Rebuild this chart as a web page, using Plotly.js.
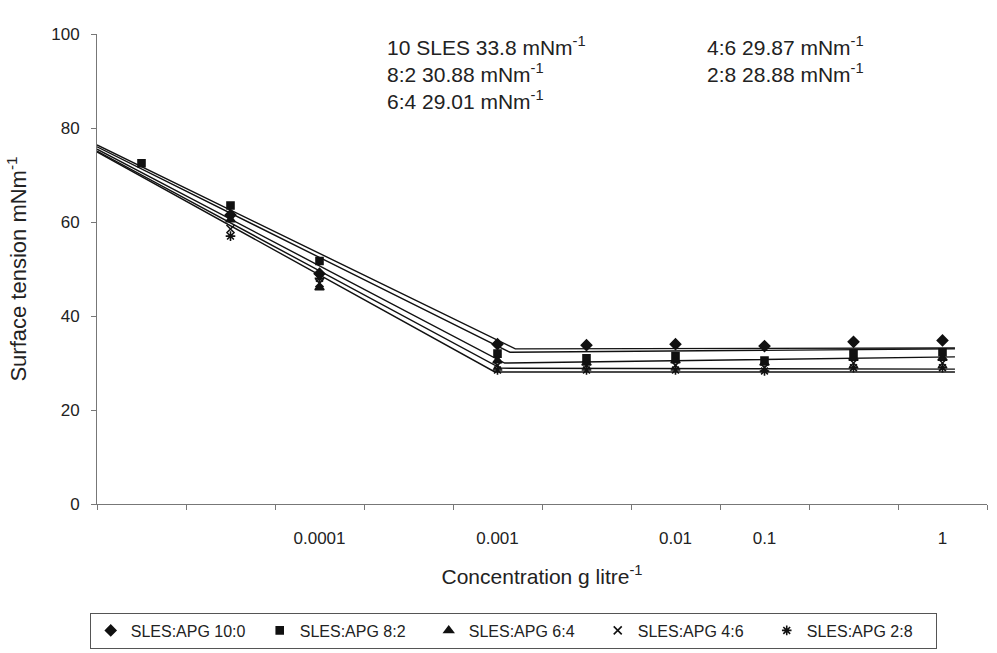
<!DOCTYPE html>
<html>
<head>
<meta charset="utf-8">
<script src="https://cdn.plot.ly/plotly-3.0.1.min.js"></script>
<style>html,body{margin:0;padding:0;background:#fff;}#chart{width:997px;height:653px;}</style>
</head>
<body>
<div id="chart"></div>
<script>
// Category slots along the x axis (10 slots), with their tick labels
const slotLabels = ['', '', '0.0001', '', '0.001', '', '0.01', '0.1', '', '1'];
// Category slot of each measured concentration
const measuredSlots = [1, 2, 3, 5, 6, 7, 8, 9, 10];

const seriesNames = ['SLES:APG 10:0', 'SLES:APG 8:2', 'SLES:APG 6:4', 'SLES:APG 4:6', 'SLES:APG 2:8'];

// Surface tension (mN m-1) per measured concentration
const sles100 = [null, 61.5, 49.0, 34.0, 33.8, 34.0, 33.6, 34.5, 34.8];
const sles82  = [72.5, 63.5, 51.7, 32.0, 31.0, 31.5, 30.5, 32.0, 32.3];
const sles64  = [null, 60.5, 46.0, 30.5, 30.0, 30.5, 30.0, 31.0, 31.0];
const sles46  = [null, 58.5, 47.0, 29.5, 29.5, 29.5, 29.0, 30.0, 30.0];
const sles28  = [null, 57.0, 48.0, 28.5, 28.5, 28.5, 28.3, 29.0, 29.0];
const seriesValues = [sles100, sles82, sles64, sles46, sles28];

// Fitted two-segment lines: slot/value at start, at the break (CMC) and at the end
const fitStartSlot = 0.5;
const fitEndSlot = 10.14;
const fitStartValue = [76.4, 76.0, 75.5, 75.1, 74.9];
const fitBreakSlot  = [5.20, 5.14, 5.08, 5.03, 4.97];
const fitBreakValue = [33.0, 32.3, 30.0, 28.9, 28.1];
const fitEndValue   = [33.2, 33.0, 31.3, 28.7, 28.1];

// CMC surface tension notes
const notesLeft  = ['10 SLES 33.8 mNm<sup>-1</sup>', '8:2 30.88 mNm<sup>-1</sup>', '6:4 29.01 mNm<sup>-1</sup>'];
const notesRight = ['4:6 29.87 mNm<sup>-1</sup>', '2:8 28.88 mNm<sup>-1</sup>'];

const symbols = ['diamond', 'square', 'triangle-up', 'x-thin-open', 'asterisk-open'];
const sizes = [8, 7, 8, 8, 8];
const FONT = '"Liberation Sans", Arial, Helvetica, sans-serif';
const TXT = '#222';

const traces = [];
for (let i = 0; i < 5; i++) {
  traces.push({
    type: 'scatter', mode: 'lines', showlegend: false, hoverinfo: 'skip',
    x: [fitStartSlot, fitBreakSlot[i], fitEndSlot],
    y: [fitStartValue[i], fitBreakValue[i], fitEndValue[i]],
    line: {color: '#111', width: 1.4},
    xaxis: 'x', yaxis: 'y'
  });
}
for (let i = 0; i < 5; i++) {
  traces.push({
    type: 'scatter', mode: 'markers', name: seriesNames[i],
    x: measuredSlots, y: seriesValues[i],
    marker: {symbol: symbols[i], size: sizes[i], color: '#111', line: {color: '#111', width: 1.6}},
    xaxis: 'x', yaxis: 'y'
  });
}

const boundaries = [];
for (let k = 0; k <= slotLabels.length; k++) boundaries.push(k + 0.5);
const labelVals = [], labelText = [];
slotLabels.forEach((t, k) => { if (t) { labelVals.push(k + 1); labelText.push(t); } });

const annotations = [];
const lineY = [0.974, 0.917, 0.860];
notesLeft.forEach((t, k) => annotations.push({
  xref: 'paper', yref: 'paper', x: 0.324, y: lineY[k], xanchor: 'left', yanchor: 'middle',
  text: t, showarrow: false, font: {family: FONT, size: 21, color: TXT}
}));
notesRight.forEach((t, k) => annotations.push({
  xref: 'paper', yref: 'paper', x: 0.683, y: lineY[k], xanchor: 'left', yanchor: 'middle',
  text: t, showarrow: false, font: {family: FONT, size: 21, color: TXT}
}));

const layout = {
  width: 997, height: 653,
  margin: {l: 97, r: 10, t: 34, b: 149},
  paper_bgcolor: '#fff', plot_bgcolor: '#fff',
  font: {family: FONT, color: TXT},
  showlegend: true,
  xaxis: {
    range: [0.5, 10.5], tickvals: boundaries, showticklabels: false,
    ticks: 'outside', ticklen: 5, tickcolor: '#777',
    showline: true, linecolor: '#777', linewidth: 1,
    showgrid: false, zeroline: false, fixedrange: true
  },
  xaxis2: {
    overlaying: 'x', matches: 'x', anchor: 'y', side: 'bottom',
    range: [0.5, 10.5], tickvals: labelVals, ticktext: labelText,
    ticks: '', showline: false, showgrid: false, zeroline: false,
    tickfont: {family: FONT, size: 17, color: TXT}, ticklabelstandoff: 22,
    title: {text: 'Concentration g litre<sup>-1</sup>', font: {family: FONT, size: 21, color: TXT}, standoff: 22}
  },
  yaxis: {
    range: [0, 100], tickvals: [0, 20, 40, 60, 80, 100],
    ticks: 'outside', ticklen: 5, tickcolor: '#777',
    showline: true, linecolor: '#777', linewidth: 1,
    showgrid: false, zeroline: false,
    tickfont: {family: FONT, size: 17, color: TXT}, ticklabelstandoff: 8,
    title: {text: 'Surface tension mNm<sup>-1</sup>', font: {family: FONT, size: 22, color: TXT}, standoff: 18}
  },
  legend: {
    orientation: 'h', xref: 'container', yref: 'container',
    x: 0.09, xanchor: 'left', y: 0.062, yanchor: 'top',
    bordercolor: '#555', borderwidth: 1, bgcolor: '#fff',
    font: {family: FONT, size: 16, color: TXT},
    itemwidth: 30, entrywidth: 124, entrywidthmode: 'pixels'
  },
  annotations: annotations
};

// empty trace that activates the labelled overlay axis
traces.push({type: 'scatter', mode: 'markers', x: [], y: [], xaxis: 'x2', yaxis: 'y', showlegend: false, hoverinfo: 'skip'});

Plotly.newPlot('chart', traces, layout, {staticPlot: true, displayModeBar: false});
</script>
</body>
</html>
